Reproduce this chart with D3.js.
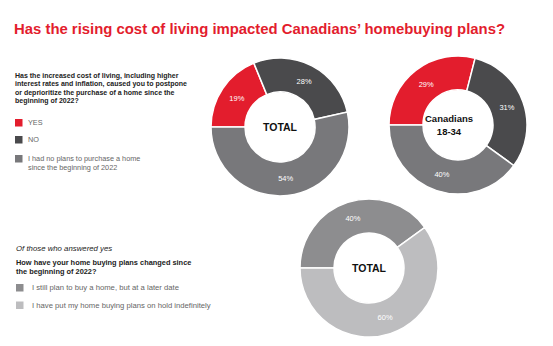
<!DOCTYPE html>
<html>
<head>
<meta charset="utf-8">
<script src="https://cdn.jsdelivr.net/npm/d3@7"></script>
<style>
  body { margin: 0; background: #fff; }
  text { font-family: "Liberation Sans", Arial, sans-serif; }
</style>
</head>
<body>
<svg id="chart"></svg>
<script>
var width = 553,
    height = 346;

// data
var title = "Has the rising cost of living impacted Canadians\u2019 homebuying plans?";

var question1 = ["Has the increased cost of living, including higher",
                 "interest rates and inflation, caused you to postpone",
                 "or deprioritize the purchase of a home since the",
                 "beginning of 2022?"];
var answers1 = ["YES", "NO", "I had no plans to purchase a home|since the beginning of 2022"];
var totalValues = [19, 28, 54];
var youngValues = [29, 31, 40];

var subNote = "Of those who answered yes";
var question2 = ["How have your home buying plans changed since",
                 "the beginning of 2022?"];
var answers2 = ["I still plan to buy a home, but at a later date",
                "I have put my home buying plans on hold indefinitely"];
var changeValues = [40, 60];

var color1 = d3.scaleOrdinal().domain(answers1).range(["#e31d2d", "#4a4a4c", "#78787b"]),
    color2 = d3.scaleOrdinal().domain(answers2).range(["#8d8d8f", "#bdbdbf"]);

var outerR = 69,
    innerR = 35;

var svg = d3.select("#chart")
            .attr("width", width)
            .attr("height", height);

//Title
svg.append("text")
   .attr("x", 14)
   .attr("y", 34)
   .attr("fill", "#e31d2d")
   .attr("font-size", 15)
   .attr("font-weight", "bold")
   .attr("textLength", 491)
   .attr("lengthAdjust", "spacingAndGlyphs")
   .text(title);

//First question + legend
svg.append("g").selectAll("text")
   .data(question1).join("text")
   .attr("x", 15)
   .attr("y", function(d, i) { return 78 + i*8.4; })
   .attr("font-size", 7)
   .attr("font-weight", "bold")
   .attr("fill", "#222")
   .text(function(d) { return d; });

var legend1 = svg.append("g").selectAll("g")
   .data(answers1).join("g")
   .attr("transform", function(d, i) { return "translate(15," + [119, 136, 155][i] + ")"; });

legend1.append("rect")
   .attr("width", 7.5).attr("height", 7.5)
   .attr("fill", function(d) { return color1(d); });

legend1.each(function(d) {
  d3.select(this).selectAll("text")
    .data(d.split("|")).join("text")
    .attr("x", 13)
    .attr("y", function(t, i) { return 6 + i*9; })
    .attr("font-size", 7.3)
    .attr("fill", "#666")
    .text(function(t) { return t; });
});

//Second question + legend
svg.append("text")
   .attr("x", 16).attr("y", 250.5)
   .attr("font-size", 7.8)
   .attr("font-style", "italic")
   .attr("fill", "#222")
   .text(subNote);

svg.append("g").selectAll("text")
   .data(question2).join("text")
   .attr("x", 16)
   .attr("y", function(d, i) { return 264.5 + i*9.5; })
   .attr("font-size", 7.4)
   .attr("font-weight", "bold")
   .attr("fill", "#222")
   .text(function(d) { return d; });

var legend2 = svg.append("g").selectAll("g")
   .data(answers2).join("g")
   .attr("transform", function(d, i) { return "translate(16," + (284 + i*17.5) + ")"; });

legend2.append("rect")
   .attr("width", 7.5).attr("height", 7.5)
   .attr("fill", function(d) { return color2(d); });

legend2.append("text")
   .attr("x", 16).attr("y", 6.3)
   .attr("font-size", 7.7)
   .attr("fill", "#666")
   .text(function(d) { return d; });

//Donuts
var pie = d3.pie().sort(null)
            .startAngle(-Math.PI/2)
            .endAngle(3*Math.PI/2);

var arc = d3.arc().outerRadius(outerR).innerRadius(innerR);
var labelArc = d3.arc().outerRadius(52).innerRadius(52);

function donut(cx, cy, values, keys, color, centerLines, dx) {
  var g = svg.append("g").attr("transform", "translate(" + cx + "," + cy + ")");
  var arcs = pie(values);
  arcs.forEach(function(a, i) { a.key = keys[i]; });

  g.selectAll("path")
   .data(arcs).join("path")
   .attr("d", arc)
   .attr("fill", function(d) { return color(d.key); })
   .attr("stroke", "#fff")
   .attr("stroke-width", 1.5);

  g.selectAll("text.pct")
   .data(arcs).join("text")
   .attr("class", "pct")
   .attr("transform", function(d) { return "translate(" + labelArc.centroid(d) + ")"; })
   .attr("text-anchor", "middle")
   .attr("dy", "0.35em")
   .attr("font-size", 7.5)
   .attr("fill", "#fff")
   .text(function(d) { return d.data + "%"; });

  var n = centerLines.length;
  g.selectAll("text.center")
   .data(centerLines).join("text")
   .attr("class", "center")
   .attr("x", dx || 0)
   .attr("y", function(d, i) { return (i - (n-1)/2)*12.5; })
   .attr("dy", "0.36em")
   .attr("text-anchor", "middle")
   .attr("font-size", n > 1 ? 9.5 : 10.5)
   .attr("font-weight", "bold")
   .attr("fill", "#111")
   .text(function(d) { return d; });
}

donut(280, 127, totalValues, answers1, color1, ["TOTAL"]);
donut(458, 125, youngValues, answers1, color1, ["Canadians", "18-34"], -9);
donut(369, 268, changeValues, answers2, color2, ["TOTAL"]);
</script>
</body>
</html>
